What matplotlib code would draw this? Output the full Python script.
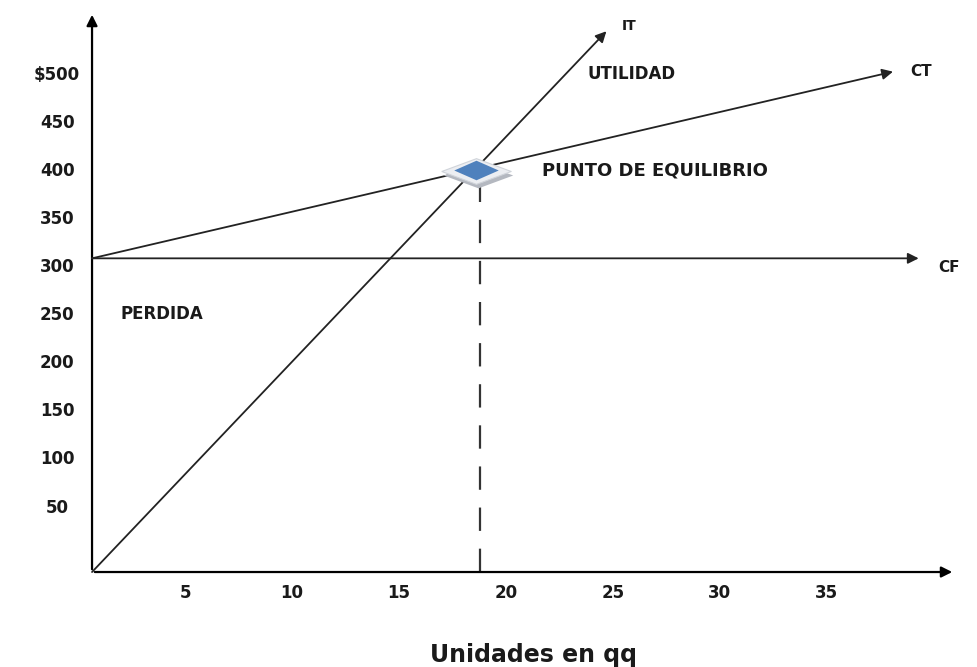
import matplotlib
matplotlib.use("Agg")
from matplotlib import pyplot as plt

# axis tick labels
x_ticks = [5, 10, 15, 20, 25, 30, 35]
y_ticks = [50, 100, 150, 200, 250, 300, 350, 400, 450, 500]
y_labels = ['50', '100', '150', '200', '250', '300', '350', '400', '450', '$500']

# lines (units, $)
it_x = [0.65, 24.7]       # ingreso total
it_y = [-18, 544]
ct_x = [0.65, 38.1]       # costo total
ct_y = [308, 502]
cf_x = [0.65, 39.3]       # costo fijo
cf_y = [308, 308]

# punto de equilibrio
pe_x = 18.6
pe_y = 400

# flat diamond marker (wider than tall)
flat_diamond = [(-1, 0), (0, 0.37), (1, 0), (0, -0.37), (-1, 0)]
inner_diamond = [(-1, 0), (0, 0.44), (1, 0), (0, -0.44), (-1, 0)]

fig = plt.figure(figsize=(9.77, 6.67), dpi=100)
ax = fig.add_axes([0.0942, 0.1424, 0.8833, 0.8396])
ax.set_xlim(0.65, 41.0)
ax.set_ylim(-18, 564)
for s in ax.spines.values():
    s.set_visible(False)
ax.set_xticks([])
ax.set_yticks([])

# axes with arrows
arr = dict(arrowstyle='-|>', color='black', lw=1.6, mutation_scale=16)
ax.annotate('', xy=(0, 1), xytext=(0, 0), xycoords='axes fraction', arrowprops=arr)
ax.annotate('', xy=(1, 0), xytext=(0, 0), xycoords='axes fraction', arrowprops=arr)

# tick labels (text only, no tick marks)
txt = '#1a1a1a'
for v in x_ticks:
    ax.text(v, -40, str(v), ha='center', va='center', fontsize=12, fontweight='bold', color=txt)
for v, lab in zip(y_ticks, y_labels):
    ax.text(-0.98, v - 1, lab, ha='center', va='center', fontsize=12, fontweight='bold', color=txt)

# lines with arrow heads
line_arr = dict(arrowstyle='-|>', color='#222222', lw=1.3, mutation_scale=16,
                shrinkA=0, shrinkB=0)
ax.annotate('', xy=(it_x[1], it_y[1]), xytext=(it_x[0], it_y[0]), arrowprops=line_arr)
ax.annotate('', xy=(ct_x[1], ct_y[1]), xytext=(ct_x[0], ct_y[0]), arrowprops=line_arr)
ax.annotate('', xy=(cf_x[1], cf_y[1]), xytext=(cf_x[0], cf_y[0]), arrowprops=line_arr)

ax.text(25.4, 549, 'IT', fontsize=10, fontweight='bold', va='center', color=txt)
ax.text(38.9, 502, 'CT', fontsize=11, fontweight='bold', va='center', color=txt)
ax.text(40.2, 298, 'CF', fontsize=11, fontweight='bold', va='center', color=txt)

# dashed line down from the break-even point
ax.plot([pe_x + 0.2, pe_x + 0.2], [-18, pe_y - 12], color='#333333', lw=1.6,
        linestyle=(0, (10.5, 8)))
# break-even marker: shadow, light border, blue face
ax.plot(pe_x + 0.1, pe_y - 5, marker=flat_diamond, markersize=50, color='#b4b8c0',
        markeredgewidth=0, zorder=4)
ax.plot(pe_x, pe_y - 1, marker=flat_diamond, markersize=50, color='#eceef2',
        markeredgecolor='#d0d4da', markeredgewidth=0.8, zorder=5)
ax.plot(pe_x, pe_y, marker=inner_diamond, markersize=32, color='#4f81bd',
        markeredgewidth=0, zorder=6)

ax.text(23.8, 500, 'UTILIDAD', fontsize=12, fontweight='bold', va='center', color=txt)
ax.text(21.7, 399, 'PUNTO DE EQUILIBRIO', fontsize=13, fontweight='bold', va='center', color=txt)
ax.text(2.0, 250, 'PERDIDA', fontsize=12, fontweight='bold', va='center', color=txt)

fig.text(0.546, 0.018, 'Unidades en qq', ha='center', va='center',
         fontsize=17, fontweight='bold', color=txt)

fig.savefig('out.png', dpi=100)
